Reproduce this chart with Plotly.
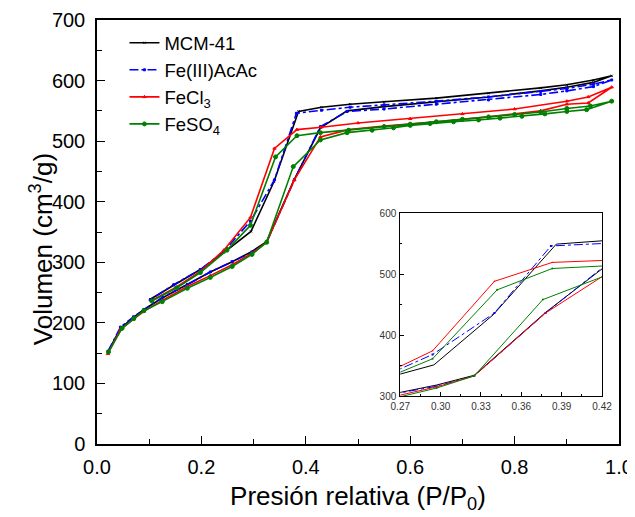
import plotly.graph_objects as go

# Isotermas de adsorción-desorción de N2
MCM_ADS_X = [0.021, 0.045, 0.070, 0.090, 0.125, 0.173, 0.217, 0.259, 0.297, 0.325,
             0.378, 0.428, 0.479, 0.55, 0.65, 0.75, 0.85, 0.90, 0.951, 0.986]
MCM_ADS_Y = [152, 191, 209, 222, 241, 264, 284, 301, 318, 334,
             437, 522, 550, 557, 565, 573, 583, 589, 597, 608]
MCM_DES_X = [0.951, 0.90, 0.85, 0.75, 0.65, 0.55, 0.485, 0.43, 0.386, 0.339,
             0.295, 0.243, 0.198, 0.147, 0.102]
MCM_DES_Y = [601, 593, 588, 579, 571, 565, 561, 556, 549, 433,
             351, 316, 288, 262, 239]

ACAC_ADS_X = [0.021, 0.045, 0.070, 0.090, 0.125, 0.173, 0.217, 0.259, 0.297, 0.325,
              0.378, 0.428, 0.479, 0.55, 0.65, 0.75, 0.85, 0.90, 0.951, 0.986]
ACAC_ADS_Y = [153, 193, 210, 222, 242, 263, 284, 301, 316, 333,
              436, 524, 549, 553, 561, 568, 577, 583, 590, 601]
ACAC_DES_X = [0.951, 0.90, 0.85, 0.75, 0.65, 0.55, 0.485, 0.43, 0.382, 0.34,
              0.294, 0.243, 0.198, 0.147, 0.102]
ACAC_DES_Y = [594, 587, 582, 573, 566, 560, 556, 551, 546, 436,
              368, 318, 288, 263, 238]

FECL3_ADS_X = [0.021, 0.045, 0.070, 0.090, 0.125, 0.173, 0.217, 0.259, 0.297, 0.325,
               0.378, 0.428, 0.482, 0.55, 0.65, 0.75, 0.85, 0.90, 0.941, 0.986]
FECL3_ADS_Y = [149, 189, 206, 219, 237, 260, 278, 296, 315, 333,
               436, 507, 519, 525, 532, 540, 550, 561, 563, 589]
FECL3_DES_X = [0.941, 0.90, 0.80, 0.70, 0.60, 0.50, 0.43, 0.383, 0.340, 0.294,
               0.243, 0.198, 0.150, 0.105]
FECL3_DES_Y = [573, 566, 553, 545, 537, 530, 523, 519, 488, 374,
               320, 285, 258, 237]

FESO4_ADS_X = [0.022, 0.048, 0.0705, 0.0896, 0.125, 0.173, 0.217, 0.259, 0.297, 0.325,
               0.376, 0.428, 0.479, 0.527, 0.568, 0.60, 0.638, 0.683, 0.731, 0.772,
               0.814, 0.858, 0.900, 0.938, 0.986]
FESO4_ADS_Y = [152, 191, 207, 220, 235, 257, 275, 293, 313, 333,
               458, 502, 514, 518, 522, 526, 529, 532, 535, 538,
               541, 545, 549, 552, 566]
FESO4_DES_X = [0.945, 0.90, 0.85, 0.80, 0.75, 0.70, 0.65, 0.60, 0.55, 0.482,
               0.428, 0.383, 0.342, 0.294, 0.249, 0.198, 0.153, 0.105]
FESO4_DES_Y = [558, 554, 548, 544, 540, 536, 532, 528, 524, 518,
               514, 509, 474, 361, 320, 283, 258, 236]

SERIES = [
    ("MCM-41", MCM_ADS_X + MCM_DES_X, MCM_ADS_Y + MCM_DES_Y, "#000000", "solid", "x-thin", 2),
    ("Fe(III)AcAc", ACAC_ADS_X + ACAC_DES_X, ACAC_ADS_Y + ACAC_DES_Y, "#0000FF", "dashdot", "square", 2),
    ("FeCl<sub>3</sub>", FECL3_ADS_X + FECL3_DES_X, FECL3_ADS_Y + FECL3_DES_Y, "#FF0000", "solid", "triangle-up", 3),
    ("FeSO<sub>4</sub>", FESO4_ADS_X + FESO4_DES_X, FESO4_ADS_Y + FESO4_DES_Y, "#008000", "solid", "circle", 4),
]

FONT = "Liberation Sans, Arial, sans-serif"

fig = go.Figure()
for name, xs, ys, color, dash, symbol, msize in SERIES:
    fig.add_trace(go.Scatter(
        x=xs, y=ys, name=name, mode="lines+markers",
        line=dict(color=color, width=1.6, dash=dash),
        marker=dict(symbol=symbol, size=msize, color=color,
                    line=dict(color=color, width=1)),
    ))
# inserto: ampliación de la zona del salto capilar
for name, xs, ys, color, dash, symbol, msize in SERIES:
    fig.add_trace(go.Scatter(
        x=xs, y=ys, name=name, mode="lines+markers", showlegend=False,
        xaxis="x2", yaxis="y2",
        line=dict(color=color, width=1, dash=dash),
        marker=dict(symbol=symbol, size=2, color=color),
    ))

axis_common = dict(showline=True, linecolor="black", mirror=True, showgrid=False,
                   zeroline=False, ticks="inside", tickcolor="black", automargin=False,
                   ticklabeloverflow="allow")

# la página deja 8 px de margen al body: figura de 627x509 para que quepa
fig.update_layout(
    width=627, height=509,
    paper_bgcolor="white", plot_bgcolor="white",
    font=dict(family=FONT, color="black", size=20),
    margin=dict(l=88.5, r=16, t=12, b=73),
    showlegend=True,
    legend=dict(x=0.0526, y=0.99, xanchor="left", yanchor="top",
                bgcolor="rgba(0,0,0,0)", font=dict(size=18.5), tracegroupgap=0),
    xaxis=dict(range=[0, 1.0], dtick=0.2, tickformat=".1f", ticklen=8, tickwidth=1.2,
               linewidth=1.5, ticklabelstandoff=4,
               minor=dict(dtick=0.1, ticks="inside", ticklen=5, tickcolor="black"),
               title=dict(text="Presión relativa (P/P<sub>0</sub>)", font=dict(size=26),
                          standoff=10),
               **axis_common),
    yaxis=dict(range=[0, 700], dtick=100, ticklen=8, tickwidth=1.2, linewidth=1.5,
               ticklabelstandoff=6,
               minor=dict(dtick=50, ticks="inside", ticklen=5, tickcolor="black"),
               **axis_common),
    xaxis2=dict(domain=[0.581, 0.9675], anchor="y2", range=[0.27, 0.42],
                tickvals=[0.27, 0.30, 0.33, 0.36, 0.39, 0.42], tickformat=".2f",
                ticklen=4, linewidth=1, tickfont=dict(size=10, color="#333333"),
                ticklabelstandoff=1,
                minor=dict(dtick=0.015, tick0=0.27, ticks="inside", ticklen=2,
                           tickcolor="black"),
                **axis_common),
    yaxis2=dict(domain=[0.1132, 0.5448], anchor="x2", range=[300, 600], dtick=100,
                ticklen=4, linewidth=1, tickfont=dict(size=10, color="#333333"),
                ticklabelstandoff=1,
                minor=dict(dtick=50, ticks="inside", ticklen=2, tickcolor="black"),
                **axis_common),
)
fig.add_annotation(text="Volumen (cm<sup>3</sup>/g)", textangle=-90, showarrow=False,
                   xref="paper", yref="paper", x=-0.105, y=0.46,
                   xanchor="center", yanchor="middle", font=dict(size=26))

fig.write_html("out.html")
